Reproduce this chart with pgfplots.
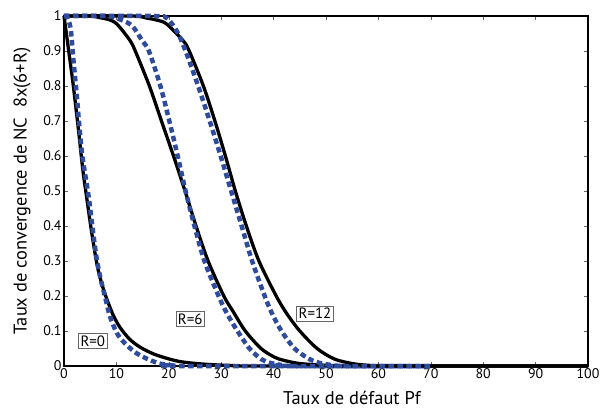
\documentclass[border=0pt]{standalone}
\usepackage{pgfplots}
\pgfplotsset{compat=1.18}
\usepackage{fontspec}
\setmainfont{PT Sans}
\definecolor{dblue}{HTML}{2F4B9C}
\begin{document}
\begin{tikzpicture}[x=1bp,y=1bp]
\begin{axis}[
  at={(0,0)}, anchor=south west,
  scale only axis, width=524bp, height=350bp,
  xmin=0, xmax=100, ymin=0, ymax=1,
  xtick={0,10,...,100},
  ytick={0,0.1,0.2,0.3,0.4,0.5,0.6,0.7,0.8,0.9,1},
  yticklabels={0,0.1,0.2,0.3,0.4,0.5,0.6,0.7,0.8,0.9,1},
  xticklabels={0,10,20,30,40,50,60,70,80,90,100},
  tick align=inside,
  tick pos=both,
  major tick length=4bp,
  every tick/.style={black!60, line width=0.5bp},
  axis line style={line width=2.8bp},
  tick label style={font=\fontsize{14}{16}\selectfont},
  xticklabel style={yshift=1bp},
  yticklabel style={xshift=1bp},
  clip=false,
]
% R=0 solid
\addplot[black, line width=3.3bp, smooth, tension=0.5] coordinates {
(0,1) (0.9,0.9) (1.7,0.81) (2.7,0.683) (3.6,0.56) (4.4,0.474) (5.3,0.38) (6.3,0.29) (7.2,0.235) (8.2,0.19) (9.4,0.145) (10.7,0.11) (12.5,0.077) (14.5,0.054) (17,0.035) (19.6,0.022) (22,0.013) (24.6,0.008) (28,0.004) (32,0.0015) (38,0) (100,0)};
% R=0 dashed
\addplot[dblue, line width=4.5bp, dash pattern=on 5.5bp off 3.5bp, smooth, tension=0.5] coordinates {
(0,1) (0.7,0.995) (1.3,0.96) (1.8,0.874) (2.4,0.78) (2.9,0.69) (3.5,0.6) (4.3,0.523) (4.8,0.474) (5.4,0.4) (6.2,0.31) (6.9,0.255) (7.8,0.2) (8.8,0.14) (10.1,0.094) (11.3,0.07) (12.6,0.051) (14,0.035) (15.5,0.023) (18,0.008) (20,0.003) (22,0) (70,0)};
% R=6 solid
\addplot[black, line width=3.3bp, smooth, tension=0.5] coordinates {
(0,1) (5,1) (6.9,0.995) (8.5,0.99) (10.1,0.977) (12.6,0.93) (13.6,0.9) (16.3,0.8) (18.6,0.7) (20.9,0.6) (23.1,0.5) (25.2,0.4) (27.5,0.3) (30.5,0.2) (32.3,0.155) (34.6,0.1) (37.6,0.05) (40.2,0.025) (42,0.016) (45,0.007) (50,0.002) (55,0) (100,0)};
% R=6 dashed
\addplot[dblue, line width=4.5bp, dash pattern=on 5.5bp off 3.5bp, smooth, tension=0.5] coordinates {
(0,1) (8,1) (10.7,0.99) (13,0.972) (14.9,0.93) (16.2,0.9) (18.4,0.8) (20.1,0.7) (21.7,0.6) (23.2,0.5) (24.9,0.4) (26.8,0.3) (29.5,0.2) (31.1,0.15) (33.1,0.1) (35.4,0.05) (37.6,0.02) (39.3,0.009) (41,0.004) (43,0) (70,0)};
% R=12 solid
\addplot[black, line width=3.3bp, smooth, tension=0.5] coordinates {
(0,1) (13,1) (15.8,0.994) (17.8,0.988) (19.6,0.977) (22.7,0.93) (23.9,0.9) (26.6,0.8) (28.8,0.7) (30.8,0.6) (32.7,0.5) (34.8,0.4) (37.2,0.3) (40.5,0.2) (42.5,0.15) (45,0.1) (48.3,0.05) (51.6,0.02) (55,0.007) (58,0.002) (62,0) (100,0)};
% R=12 dashed
\addplot[dblue, line width=4.5bp, dash pattern=on 5.5bp off 3.5bp, smooth, tension=0.5] coordinates {
(0,1) (17,1) (19.6,0.994) (21.6,0.955) (23.2,0.9) (25.6,0.8) (27.8,0.7) (29.9,0.6) (31.9,0.5) (33.9,0.4) (35.9,0.3) (38.3,0.2) (39.7,0.15) (41.5,0.1) (44,0.05) (46.8,0.02) (49,0.008) (51,0.003) (54,0) (70,0)};
\node[draw=black!60, fill=white, line width=0.6bp, inner sep=2bp, font=\fontsize{15}{17}\selectfont] at (axis cs:5.5,0.071) {R=0};
\node[draw=black!60, fill=white, line width=0.6bp, inner sep=2bp, font=\fontsize{15}{17}\selectfont] at (axis cs:24.1,0.134) {R=6};
\node[draw=black!60, fill=white, line width=0.6bp, inner sep=2bp, font=\fontsize{15}{17}\selectfont] at (axis cs:47.9,0.15) {R=12};
\end{axis}
\node[font=\fontsize{18.5}{20}\selectfont] at (288bp,-32bp) {Taux de défaut Pf};
\node[font=\fontsize{18.5}{20}\selectfont, rotate=90] at (-42bp,175bp) {Taux de convergence de NC\ \ 8x(6+R)};
\pgfresetboundingbox
\path (-64bp,-43bp) rectangle (536bp,366bp);
\end{tikzpicture}
\end{document}
